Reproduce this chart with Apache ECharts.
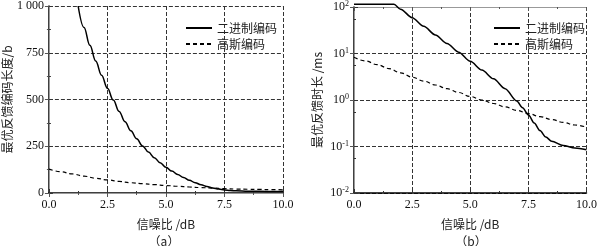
<!DOCTYPE html>
<html>
<head>
<meta charset="utf-8">
<script src="https://cdn.jsdelivr.net/npm/echarts@6/dist/echarts.min.js"></script>
<style>
  html, body { margin: 0; padding: 0; background: #fff; }
  #chart { width: 600px; height: 246px; }
</style>
</head>
<body>
<div id="chart"></div>
<script>
// (a) optimal feedback code length, b
const snrBinA = [1.25, 1.5, 1.75, 2.0, 2.25, 2.5, 2.75, 3.0, 3.25, 3.5, 3.75, 4.0, 4.25, 4.5, 4.75, 5.0, 5.25, 5.5, 5.75, 6.0, 6.25, 6.5, 6.75, 7.0, 7.25, 7.5, 7.75, 8.0, 8.5, 9.0, 10.0]
const binA = [1000, 885, 790, 706, 630, 560, 497, 436, 381, 333, 290, 252, 219, 189, 162, 138, 117, 99, 83, 68, 55, 44, 35, 27, 21, 16.5, 13.5, 11.5, 9.5, 8.7, 8]
const snrGaussA = [0, 0.5, 1, 1.5, 2, 2.5, 3, 3.5, 4, 4.5, 5, 5.5, 6, 6.5, 7, 7.5, 8, 8.5, 9, 9.5, 10]
const gaussA = [128, 114, 102, 90, 79, 70, 62, 55, 50, 45, 40, 36, 32, 29, 26, 23, 21, 20, 19, 18, 17]

// (b) optimal feedback time, ms
const snrBinB = [0, 1.72, 2.0, 2.5, 3.0, 3.5, 4.0, 4.5, 5.0, 5.5, 6.0, 6.5, 7.0, 7.25, 7.5, 7.75, 8.0, 8.25, 8.5, 9.0, 9.5, 10.0]
const binB = [115, 115, 90, 59, 38.5, 25, 16.4, 10.7, 6.8, 4.4, 2.85, 1.75, 0.95, 0.68, 0.48, 0.32, 0.22, 0.16, 0.13, 0.105, 0.093, 0.085]
const snrGaussB = [0, 0.5, 1, 1.5, 2, 2.5, 3, 3.5, 4, 4.5, 5, 5.5, 6, 6.5, 7, 7.5, 8, 8.5, 9, 9.5, 10]
const gaussB = [8.3, 6.9, 5.75, 4.75, 3.85, 3.1, 2.55, 2.1, 1.75, 1.45, 1.19, 1.0, 0.84, 0.71, 0.6, 0.51, 0.44, 0.38, 0.33, 0.29, 0.26]

const seriesNames = ['二进制编码', '高斯编码']
const yTicksA = [0, 250, 500, 750, 1000]

const serif = '"Liberation Serif", "Times New Roman", serif'
const cjk = '"Noto Sans CJK SC", sans-serif'

const pairs = (xs, ys) => xs.map((x, i) => [x, ys[i]])

const chart = echarts.init(document.getElementById('chart'))

const xMain = (gridIndex) => ({
  type: 'value',
  gridIndex: gridIndex,
  min: 0,
  max: 10,
  interval: 2.5,
  name: '信噪比 /dB',
  nameLocation: 'middle',
  nameGap: 25,
  nameTextStyle: { fontFamily: cjk, fontSize: 12, color: '#222' },
  axisLine: { lineStyle: { color: '#000', width: 1.5 } },
  axisTick: { inside: true, length: 4, lineStyle: { color: '#333' } },
  minorTick: { show: true, splitNumber: 2, length: 2, lineStyle: { color: '#333' } },
  axisLabel: {
    fontFamily: serif, fontSize: 12, color: '#111', margin: 6,
    formatter: v => v.toFixed(1)
  },
  splitLine: { show: true, lineStyle: { type: 'dashed', color: '#333', width: 1 } }
})

const xTop = (gridIndex) => ({
  type: 'value',
  gridIndex: gridIndex,
  position: 'top',
  min: 0,
  max: 10,
  interval: 2.5,
  axisLine: { show: true, lineStyle: { color: '#999', width: 1 } },
  axisTick: { inside: true, length: 4, lineStyle: { color: '#555' } },
  minorTick: { show: true, splitNumber: 2, length: 2, lineStyle: { color: '#555' } },
  axisLabel: { show: false },
  splitLine: { show: false }
})

const legendAt = (left) => ({
  data: seriesNames, left: left, top: 17, orient: 'vertical',
  itemWidth: 26, itemHeight: 10, itemGap: 4,
  itemStyle: { opacity: 0 },
  textStyle: { fontFamily: cjk, fontSize: 12, color: '#222' }
})

chart.setOption({
  animation: false,
  grid: [
    { left: 46, right: 317, top: 6, bottom: 53 },
    { left: 354, right: 9, top: 6, bottom: 53 }
  ],
  legend: [legendAt(180), legendAt(488)],
  xAxis: [xMain(0), xTop(0), xMain(1), xTop(1)],
  yAxis: [
    {
      type: 'value',
      gridIndex: 0,
      min: 0,
      max: 1000,
      interval: 250,
      name: '最优反馈编码长度/b',
      nameLocation: 'middle',
      nameGap: 33,
      nameTextStyle: { fontFamily: cjk, fontSize: 12, color: '#222' },
      axisLine: { show: true, lineStyle: { color: '#000', width: 1.5 } },
      axisTick: { inside: true, length: 4, lineStyle: { color: '#333' } },
      minorTick: { show: true, splitNumber: 2, length: 2, lineStyle: { color: '#333' } },
      axisLabel: {
        fontFamily: serif, fontSize: 12, color: '#111', margin: 5,
        formatter: v => (v === yTicksA[4] ? '1 000' : String(v))
      },
      splitLine: { show: true, lineStyle: { type: 'dashed', color: '#333', width: 1 } }
    },
    {
      type: 'value',
      gridIndex: 0,
      position: 'right',
      min: 0,
      max: 1000,
      interval: 250,
      axisLine: { show: true, lineStyle: { color: '#999', width: 1 } },
      axisTick: { inside: true, length: 4, lineStyle: { color: '#555' } },
      minorTick: { show: true, splitNumber: 2, length: 2, lineStyle: { color: '#555' } },
      axisLabel: { show: false },
      splitLine: { show: false }
    },
    {
      type: 'log',
      gridIndex: 1,
      logBase: 10,
      min: 0.01,
      max: 100,
      name: '最优反馈时长 /ms',
      nameLocation: 'middle',
      nameGap: 31,
      nameTextStyle: { fontFamily: cjk, fontSize: 12, color: '#222' },
      axisLine: { show: true, lineStyle: { color: '#000', width: 1.5 } },
      axisTick: { inside: true, length: 4, lineStyle: { color: '#333' } },
      minorTick: { show: true, splitNumber: 2, length: 2, lineStyle: { color: '#333' } },
      axisLabel: {
        margin: 5,
        formatter: v => {
          const e = Math.round(Math.log10(v))
          return '{b|10}{s|' + e + '}'
        },
        rich: {
          b: { fontFamily: serif, fontSize: 12, color: '#111' },
          s: { fontFamily: serif, fontSize: 8, color: '#111', verticalAlign: 'top', padding: [0, 0, 6, 0] }
        }
      },
      splitLine: { show: true, lineStyle: { type: 'dashed', color: '#333', width: 1 } }
    },
    {
      type: 'log',
      gridIndex: 1,
      logBase: 10,
      position: 'right',
      min: 0.01,
      max: 100,
      axisLine: { show: true, lineStyle: { color: '#999', width: 1 } },
      axisTick: { inside: true, length: 4, lineStyle: { color: '#555' } },
      axisLabel: { show: false },
      splitLine: { show: false }
    }
  ],
  series: [
    {
      name: seriesNames[0], type: 'line', xAxisIndex: 0, yAxisIndex: 0,
      data: pairs(snrBinA, binA), symbol: 'none', smooth: 0.4, smoothMonotone: 'x',
      lineStyle: { color: '#000', width: 1.5, type: 'solid' }, itemStyle: { color: '#000' }, z: 5
    },
    {
      name: seriesNames[1], type: 'line', xAxisIndex: 0, yAxisIndex: 0,
      data: pairs(snrGaussA, gaussA), symbol: 'none', smooth: 0.4, smoothMonotone: 'x',
      lineStyle: { color: '#000', width: 1.2, type: [4, 3] }, itemStyle: { color: '#000' }, z: 5
    },
    {
      name: seriesNames[0], type: 'line', xAxisIndex: 2, yAxisIndex: 2, clip: false,
      data: pairs(snrBinB, binB), symbol: 'none', smooth: 0.3, smoothMonotone: 'x',
      lineStyle: { color: '#000', width: 1.5, type: 'solid' }, itemStyle: { color: '#000' }, z: 5
    },
    {
      name: seriesNames[1], type: 'line', xAxisIndex: 2, yAxisIndex: 2,
      data: pairs(snrGaussB, gaussB), symbol: 'none', smooth: 0.4, smoothMonotone: 'x',
      lineStyle: { color: '#000', width: 1.2, type: [4, 3] }, itemStyle: { color: '#000' }, z: 5
    }
  ],
  graphic: [
    { type: 'text', x: 164, y: 241, style: { text: '（a）', font: '12px "Noto Sans CJK SC"', fill: '#222', align: 'center', verticalAlign: 'middle' } },
    { type: 'text', x: 471, y: 241, style: { text: '（b）', font: '12px "Noto Sans CJK SC"', fill: '#222', align: 'center', verticalAlign: 'middle' } }
  ]
})
</script>
</body>
</html>
